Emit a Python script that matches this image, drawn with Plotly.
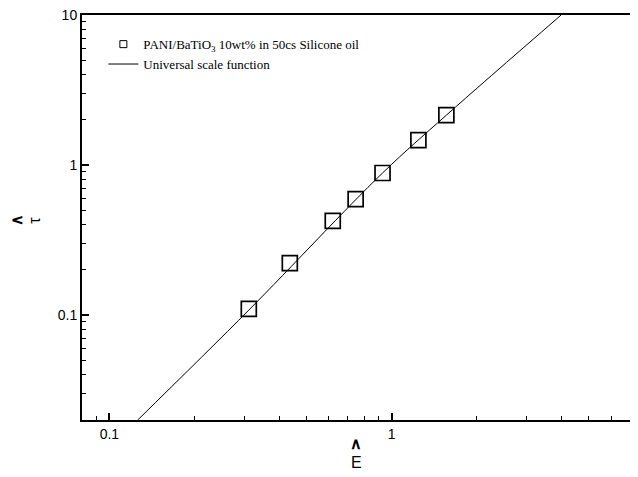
import plotly.graph_objects as go

# Measured data (PANI/BaTiO3 10wt% in 50cs silicone oil)
e_hat = [0.312, 0.436, 0.619, 0.746, 0.929, 1.245, 1.564]
tau_hat = [0.110, 0.222, 0.424, 0.593, 0.885, 1.468, 2.15]

# Universal scale function
e_line = [0.126, 0.312, 0.929, 1.564, 3.99]
tau_line = [0.020, 0.108, 0.885, 2.15, 10.0]

x_tickvals = [0.1, 1]
x_ticktext = ["0.1", "1"]
y_tickvals = [0.1, 1, 10]
y_ticktext = ["0.1", "1", "10"]

fig = go.Figure()

fig.add_trace(go.Scatter(
    x=e_line, y=tau_line, mode="lines",
    line=dict(color="black", width=1, shape="spline", smoothing=1),
    name="Universal scale function", showlegend=False,
))
fig.add_trace(go.Scatter(
    x=e_hat, y=tau_hat, mode="markers",
    marker=dict(symbol="square-open", size=15, color="black", line=dict(width=1.7, color="black")),
    name="PANI/BaTiO<sub>3</sub> 10wt% in 50cs Silicone oil", showlegend=False,
))
# legend-only entries (small legend symbol like reference)
fig.add_trace(go.Scatter(
    x=[None], y=[None], mode="markers",
    marker=dict(symbol="square-open", size=7, color="black", line=dict(width=1, color="black")),
    name="PANI/BaTiO<sub>3</sub> 10wt% in 50cs Silicone oil",
))
fig.add_trace(go.Scatter(
    x=[None], y=[None], mode="lines",
    line=dict(color="black", width=1),
    name="Universal scale function",
))

axis_common = dict(
    type="log", automargin=False,
    showgrid=False, zeroline=False,
    showline=True, linecolor="black", linewidth=2, mirror=True,
    ticks="inside", ticklen=7, tickwidth=1.5, tickcolor="black",
    minor=dict(ticks="inside", ticklen=4, tickwidth=1, tickcolor="black", showgrid=False, dtick="D1"),
    tickfont=dict(family="Liberation Sans, Arial", size=14, color="black"),
    ticklabeloverflow="allow",
)

fig.update_xaxes(
    **axis_common,
    range=[-1.097, 0.845],
    tickmode="array", tickvals=x_tickvals, ticktext=x_ticktext,
)
fig.update_yaxes(
    **axis_common,
    range=[-1.699, 1.0],
    tickmode="array", tickvals=y_tickvals, ticktext=y_ticktext,
)

title_font = dict(family="Liberation Sans, Arial", size=16, color="black")
fig.add_annotation(text="<b>∧</b>", xref="paper", yref="paper", x=0.5, y=-0.057,
                   showarrow=False, font=title_font, xanchor="center", yanchor="middle")
fig.add_annotation(text="E", xref="paper", yref="paper", x=0.5, y=-0.104,
                   showarrow=False, font=title_font, xanchor="center", yanchor="middle")
fig.add_annotation(text="<b>∧</b>", xref="paper", yref="paper", x=-0.119, y=0.494,
                   showarrow=False, font=title_font, textangle=-90, xanchor="center", yanchor="middle")
fig.add_annotation(text="τ", xref="paper", yref="paper", x=-0.086, y=0.494,
                   showarrow=False, font=title_font, textangle=-90, xanchor="center", yanchor="middle")

# page body has an 8px default margin, so margins are compensated
fig.update_layout(
    width=638, height=477,
    margin=dict(l=74, r=16, t=7, b=65),
    paper_bgcolor="white", plot_bgcolor="white",
    legend=dict(
        x=0.039, y=0.965, xanchor="left", yanchor="top",
        font=dict(family="Liberation Serif, Times New Roman", size=13, color="black"),
        bgcolor="rgba(0,0,0,0)", itemwidth=30, tracegroupgap=0,
    ),
)

fig.write_html("out.html")
